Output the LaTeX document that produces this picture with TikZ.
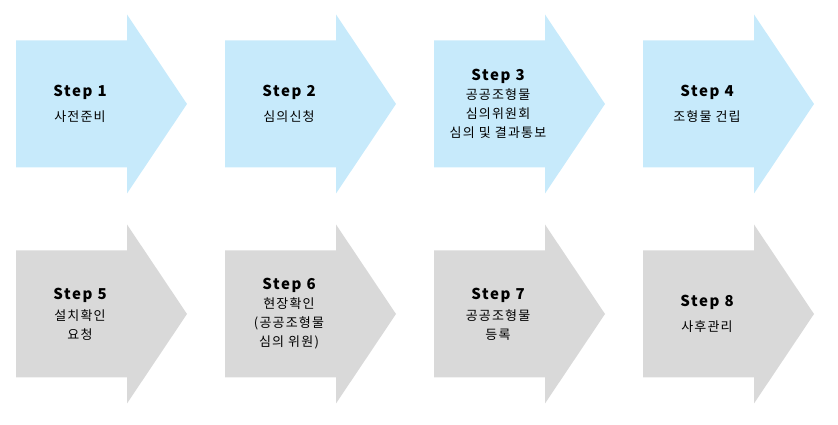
\documentclass[tikz,border=0pt]{standalone}
\usepackage{fontspec}
\usepackage{tikz}
\setmainfont{Noto Sans CJK KR}
\newfontfamily\stepfont[LetterSpace=11]{Noto Sans CJK KR}
\newfontfamily\korfont[LetterSpace=9]{Noto Sans CJK KR}
\definecolor{StepBlue}{HTML}{C7EAFB}
\definecolor{StepGray}{HTML}{D9D9D9}
\newcommand{\stepname}[1]{{\stepfont\bfseries\fontsize{15}{18}\selectfont Step #1}}

\begin{document}
\begin{tikzpicture}[x=1pt, y=1pt,
    steptext/.style={align=center, text=black, inner sep=0pt,
                     font=\korfont\fontsize{13}{19}\selectfont}]
    \useasboundingbox (0,0) rectangle (838,425);

    \foreach \n/\x/\y/\c/\g/\txt in {
        1/16/321/StepBlue/6pt/{사전준비},
        2/225/321/StepBlue/6pt/{심의신청},
        3/434/321/StepBlue/0pt/{공공조형물\\심의위원회\\심의 및 결과통보},
        4/643/321/StepBlue/6pt/{조형물 건립},
        5/16/111/StepGray/2pt/{설치확인\\요청},
        6/225/111/StepGray/0pt/{현장확인\\(공공조형물\\심의 위원)},
        7/434/111/StepGray/2pt/{공공조형물\\등록},
        8/643/111/StepGray/6pt/{사후관리}}
    {
        \fill[\c] (\x,\y) ++(0,63.5) -- ++(111,0) -- ++(0,26) -- ++(60,-89.5)
            -- ++(-60,-89.5) -- ++(0,26) -- ++(-111,0) -- cycle;
        \node[steptext] (step\n) at (\x+64,\y) {\stepname{\n}\\[\g]\txt};
    }
\end{tikzpicture}
\end{document}
